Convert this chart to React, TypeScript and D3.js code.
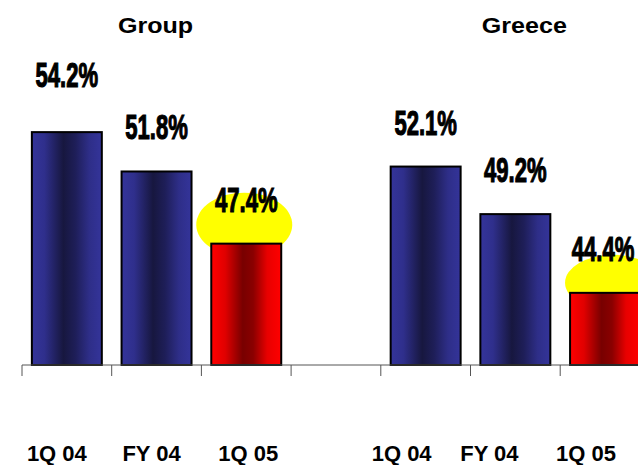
import React from 'react';
import * as d3 from 'd3';

// Cost / income ratios, Group vs Greece
const categories = ['g-1Q04', 'g-FY04', 'g-1Q05', 'gap', 'r-1Q04', 'r-FY04', 'r-1Q05'];
const tickLabels = ['1Q 04', 'FY 04', '1Q 05', '', '1Q 04', 'FY 04', '1Q 05'];
const values: (number | null)[] = [54.2, 51.8, 47.4, null, 52.1, 49.2, 44.4];
const highlighted = [false, false, true, false, false, false, true];
const panelTitles = ['Group', 'Greece'];
const panelTitleAnchors = ['g-FY04', 'r-FY04'];

const W = 638;
const H = 465;
const FONT = "'Liberation Sans', Arial, Helvetica, sans-serif";

export default function App() {
  const baseline = 365;
  const left = 22;
  const step = 89.7;

  const x = d3
    .scaleBand<string>()
    .domain(categories)
    .range([left, left + step * categories.length])
    .paddingInner(0.22)
    .paddingOuter(0.11);

  const y = d3.scaleLinear().domain([40, 60]).range([baseline, baseline - 328]);

  const bw = x.bandwidth();
  const boundaries = d3.range(categories.length + 1).map((i) => left + i * x.step());

  // layout nudges for the hand-placed captions
  const tickLabelDx = [-10, -5, 2, 0, -24, -26, -19];
  const valueLabelLift = (i: number) => (i === 0 ? 13 : 0);
  const condense = 0.63; // narrow bold look for the value labels
  const valueLabelHalf = 32;
  const titleDx = [-1, 9];
  const haloOffsets: Record<number, { dx: number; dy: number; rx: number; ry: number }> = {
    2: { dx: -2, dy: -19, rx: 48, ry: 32 },
    6: { dx: 8, dy: -10, rx: 48, ry: 28 },
  };

  return (
    <svg
      width={W}
      height={H}
      viewBox={`0 0 ${W} ${H}`}
      style={{ position: 'absolute', left: 0, top: 0, background: '#fff' }}
    >
      <defs>
        <linearGradient id="blueBar" x1="0" x2="1" y1="0" y2="0">
          <stop offset="0" stopColor="#34349a" />
          <stop offset="0.18" stopColor="#2f2f8c" />
          <stop offset="0.45" stopColor="#17173f" />
          <stop offset="0.62" stopColor="#1e1e58" />
          <stop offset="0.82" stopColor="#2e2e88" />
          <stop offset="1" stopColor="#34349a" />
        </linearGradient>
        <linearGradient id="redBar" x1="0" x2="1" y1="0" y2="0">
          <stop offset="0" stopColor="#ff0000" />
          <stop offset="0.2" stopColor="#e00000" />
          <stop offset="0.45" stopColor="#780000" />
          <stop offset="0.6" stopColor="#8a0000" />
          <stop offset="0.8" stopColor="#e80000" />
          <stop offset="1" stopColor="#ff0000" />
        </linearGradient>
      </defs>

      {/* panel titles */}
      {panelTitles.map((t, i) => {
        const cx = (x(panelTitleAnchors[i]) ?? 0) + bw / 2 + titleDx[i];
        return (
          <text
            key={t}
            transform={`translate(${cx},33) scale(1.14,1)`}
            textAnchor="middle"
            fontFamily={FONT}
            fontWeight="bold"
            fontSize={22}
            fill="#000"
          >
            {t}
          </text>
        );
      })}

      {/* yellow halos behind the latest quarter */}
      {values.map((v, i) => {
        if (v == null || !highlighted[i]) return null;
        const h = haloOffsets[i];
        const cx = (x(categories[i]) ?? 0) + bw / 2 + h.dx;
        return <ellipse key={`halo-${i}`} cx={cx} cy={y(v) + h.dy} rx={h.rx} ry={h.ry} fill="#ffff00" />;
      })}

      {/* bars */}
      {values.map((v, i) => {
        if (v == null) return null;
        const bx = x(categories[i]) ?? 0;
        return (
          <rect
            key={`bar-${i}`}
            x={bx}
            y={y(v)}
            width={bw}
            height={baseline - y(v)}
            fill={highlighted[i] ? 'url(#redBar)' : 'url(#blueBar)'}
            stroke="#000"
            strokeWidth={2}
          />
        );
      })}

      {/* value labels, kept inside the right edge */}
      {values.map((v, i) => {
        if (v == null) return null;
        const cx = Math.min((x(categories[i]) ?? 0) + bw / 2, W - valueLabelHalf - 3);
        const ly = y(v) - 32 - valueLabelLift(i);
        return (
          <text
            key={`val-${i}`}
            transform={`translate(${cx},${ly}) scale(${condense},1)`}
            textAnchor="middle"
            fontFamily={FONT}
            fontWeight="bold"
            fontSize={35}
            fill="#000"
            stroke="#000"
            strokeWidth={1.2}
          >
            {`${v.toFixed(1)}%`}
          </text>
        );
      })}

      {/* category axis */}
      <line x1={left} x2={W} y1={baseline} y2={baseline} stroke="#555" strokeWidth={1} />
      {boundaries.map((bx, i) => (
        <line key={`tick-${i}`} x1={bx} x2={bx} y1={baseline} y2={baseline + 11} stroke="#555" strokeWidth={1} />
      ))}

      {tickLabels.map((t, i) =>
        t ? (
          <text
            key={`lbl-${i}`}
            x={(x(categories[i]) ?? 0) + bw / 2 + tickLabelDx[i]}
            y={461}
            textAnchor="middle"
            fontFamily={FONT}
            fontWeight="bold"
            fontSize={22}
            fill="#000"
          >
            {t}
          </text>
        ) : null
      )}
    </svg>
  );
}
